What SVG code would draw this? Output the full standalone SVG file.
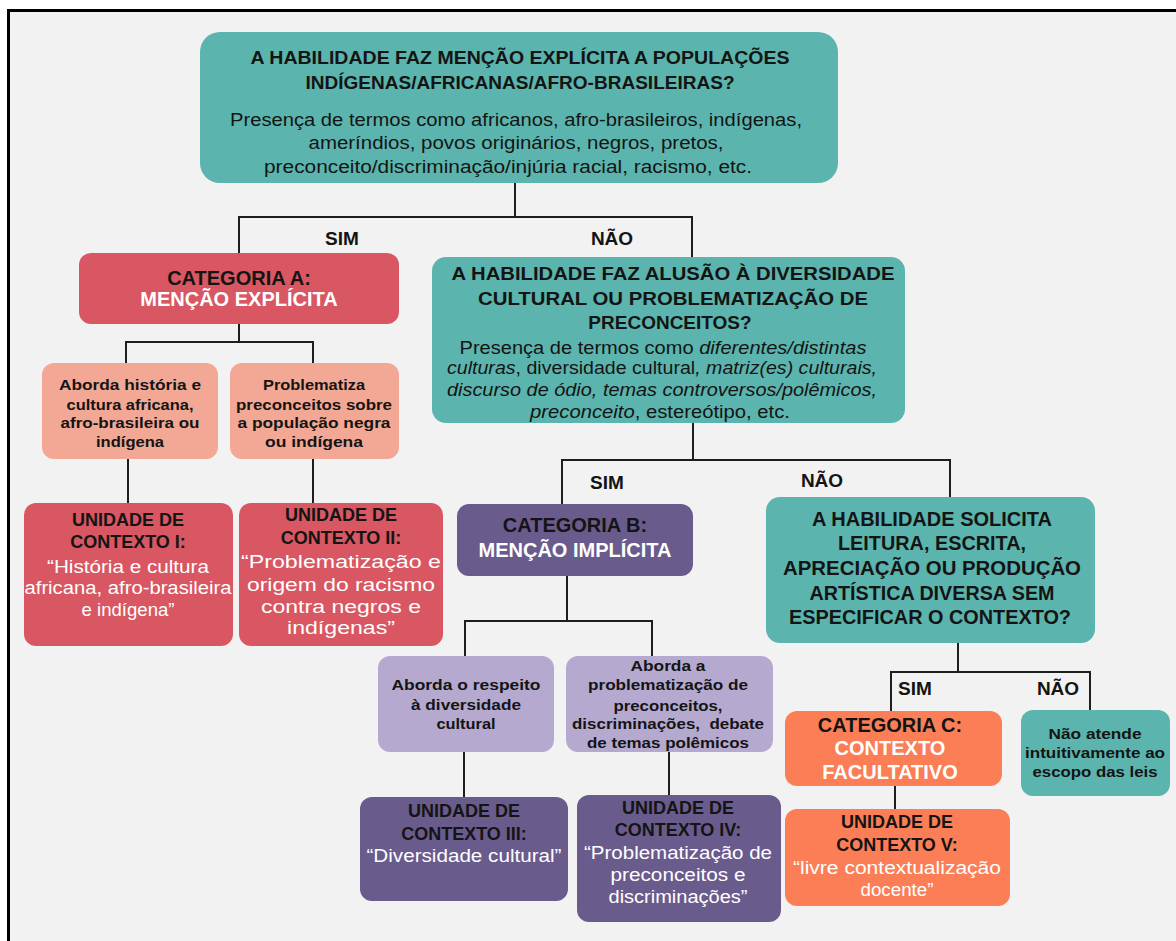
<svg xmlns="http://www.w3.org/2000/svg" width="1176" height="941" viewBox="0 0 1176 941">
<style>
.teal{fill:#5bb4ad}
.red{fill:#d85762}
.salmon{fill:#f3a895}
.dpur{fill:#6a5b8d}
.lpur{fill:#b5a9d0}
.orange{fill:#fb7e56}
text{font-family:"Liberation Sans",Arial,sans-serif;text-anchor:middle;fill:#141414}
.h{font-weight:bold;font-size:19px}
.h20{font-weight:bold;font-size:20px}
.hs{font-weight:bold;font-size:15.5px}
.hu{font-weight:bold;font-size:18px}
.r{font-size:17.5px}
.w{fill:#ffffff}
.i{font-style:italic}
.lbl{font-weight:bold;font-size:19px}
#connectors path{fill:none;stroke:#1e1e1e;stroke-width:2}
</style>
<rect x="0" y="0" width="1176" height="941" fill="#ffffff"/>
<rect x="8.5" y="10.5" width="1180" height="940" fill="#f2f2f2" stroke="#000000" stroke-width="3"/>

<g id="connectors">
<path d="M515 183 V217"/>
<path d="M239 253 V217 H692 V257"/>
<path d="M239 324 V342"/>
<path d="M126 363 V342 H313 V363"/>
<path d="M128 459 V503"/>
<path d="M313 459 V503"/>
<path d="M693 423 V460"/>
<path d="M562 504 V460 H950 V497"/>
<path d="M567 576 V621"/>
<path d="M465 656 V621 H652 V656"/>
<path d="M464 752 V797"/>
<path d="M669 752 V795"/>
<path d="M958 643 V672"/>
<path d="M891 711 V672 H1090 V710"/>
<path d="M895 786 V809"/>
</g>

<g id="labels">
<text class="lbl" x="342" y="245">SIM</text>
<text class="lbl" x="612" y="245">NÃO</text>
<text class="lbl" x="607" y="489">SIM</text>
<text class="lbl" x="822" y="487">NÃO</text>
<text class="lbl" x="915" y="695">SIM</text>
<text class="lbl" x="1058" y="695">NÃO</text>
</g>

<g id="q1">
<rect class="teal" x="200" y="32" width="638" height="151" rx="20"/>
<text class="h" x="520" y="64" textLength="539" lengthAdjust="spacingAndGlyphs">A HABILIDADE FAZ MENÇÃO EXPLÍCITA A POPULAÇÕES</text>
<text class="h" x="520" y="89" textLength="429" lengthAdjust="spacingAndGlyphs">INDÍGENAS/AFRICANAS/AFRO-BRASILEIRAS?</text>
<text class="r" x="516" y="126" textLength="572" lengthAdjust="spacingAndGlyphs">Presença de termos como africanos, afro-brasileiros, indígenas,</text>
<text class="r" x="516" y="149" textLength="415" lengthAdjust="spacingAndGlyphs">ameríndios, povos originários, negros, pretos,</text>
<text class="r" x="508" y="173" textLength="488" lengthAdjust="spacingAndGlyphs">preconceito/discriminação/injúria racial, racismo, etc.</text>
</g>

<g id="catA">
<rect class="red" x="79" y="253" width="320" height="71" rx="12"/>
<text class="h20" x="239" y="285">CATEGORIA A:</text>
<text class="h20 w" x="239" y="306">MENÇÃO EXPLÍCITA</text>
</g>

<g id="a1">
<rect class="salmon" x="42" y="363" width="176" height="96" rx="12"/>
<text class="hs" x="130" y="390" textLength="142" lengthAdjust="spacingAndGlyphs">Aborda história e</text>
<text class="hs" x="130" y="410" textLength="127" lengthAdjust="spacingAndGlyphs">cultura africana,</text>
<text class="hs" x="130" y="428" textLength="139" lengthAdjust="spacingAndGlyphs">afro-brasileira ou</text>
<text class="hs" x="130" y="447" textLength="68" lengthAdjust="spacingAndGlyphs">indígena</text>
</g>

<g id="a2">
<rect class="salmon" x="230" y="363" width="169" height="96" rx="12"/>
<text class="hs" x="314" y="390" textLength="102" lengthAdjust="spacingAndGlyphs">Problematiza</text>
<text class="hs" x="314" y="410" textLength="156" lengthAdjust="spacingAndGlyphs">preconceitos sobre</text>
<text class="hs" x="314" y="428" textLength="153" lengthAdjust="spacingAndGlyphs">a população negra</text>
<text class="hs" x="314" y="447" textLength="98" lengthAdjust="spacingAndGlyphs">ou indígena</text>
</g>

<g id="u1">
<rect class="red" x="24" y="503" width="209" height="143" rx="12"/>
<text class="hu" x="128" y="526">UNIDADE DE</text>
<text class="hu" x="128" y="548">CONTEXTO I:</text>
<text class="r w" x="128" y="573" textLength="162" lengthAdjust="spacingAndGlyphs">“História e cultura</text>
<text class="r w" x="128" y="594" textLength="207" lengthAdjust="spacingAndGlyphs">africana, afro-brasileira</text>
<text class="r w" x="128" y="616" textLength="93" lengthAdjust="spacingAndGlyphs">e indígena”</text>
</g>

<g id="u2">
<rect class="red" x="239" y="503" width="204" height="143" rx="12"/>
<text class="hu" x="341" y="521">UNIDADE DE</text>
<text class="hu" x="341" y="544">CONTEXTO II:</text>
<text class="r w" x="341" y="568" textLength="200" lengthAdjust="spacingAndGlyphs">“Problematização e</text>
<text class="r w" x="341" y="591" textLength="188" lengthAdjust="spacingAndGlyphs">origem do racismo</text>
<text class="r w" x="341" y="613" textLength="160" lengthAdjust="spacingAndGlyphs">contra negros e</text>
<text class="r w" x="341" y="634" textLength="108" lengthAdjust="spacingAndGlyphs">indígenas”</text>
</g>

<g id="q2">
<rect class="teal" x="432" y="257" width="473" height="166" rx="14"/>
<text class="h" x="673" y="280" textLength="443" lengthAdjust="spacingAndGlyphs">A HABILIDADE FAZ ALUSÃO À DIVERSIDADE</text>
<text class="h" x="673" y="305" textLength="390" lengthAdjust="spacingAndGlyphs">CULTURAL OU PROBLEMATIZAÇÃO DE</text>
<text class="h" x="670" y="329">PRECONCEITOS?</text>
<text class="r" x="663" y="354" textLength="407" lengthAdjust="spacingAndGlyphs">Presença de termos como <tspan class="i">diferentes/distintas</tspan></text>
<text class="r" x="662" y="374" textLength="430" lengthAdjust="spacingAndGlyphs"><tspan class="i">culturas</tspan>, diversidade cultural<tspan class="i">, matriz(es) culturais,</tspan></text>
<text class="r i" x="662" y="396" textLength="430" lengthAdjust="spacingAndGlyphs">discurso de ódio, temas controversos/polêmicos,</text>
<text class="r" x="660" y="418" textLength="260" lengthAdjust="spacingAndGlyphs"><tspan class="i">preconceito</tspan>, estereótipo, etc.</text>
</g>

<g id="catB">
<rect class="dpur" x="457" y="504" width="236" height="72" rx="12"/>
<text class="h20" x="575" y="532">CATEGORIA B:</text>
<text class="h20 w" x="575" y="557">MENÇÃO IMPLÍCITA</text>
</g>

<g id="b1">
<rect class="lpur" x="378" y="656" width="176" height="96" rx="12"/>
<text class="hs" x="466" y="690" textLength="149" lengthAdjust="spacingAndGlyphs">Aborda o respeito</text>
<text class="hs" x="466" y="710" textLength="110" lengthAdjust="spacingAndGlyphs">à diversidade</text>
<text class="hs" x="466" y="729" textLength="59" lengthAdjust="spacingAndGlyphs">cultural</text>
</g>

<g id="b2">
<rect class="lpur" x="566" y="656" width="207" height="96" rx="12"/>
<text class="hs" x="668" y="671" textLength="75" lengthAdjust="spacingAndGlyphs">Aborda a</text>
<text class="hs" x="668" y="690" textLength="160" lengthAdjust="spacingAndGlyphs">problematização de</text>
<text class="hs" x="668" y="711" textLength="109" lengthAdjust="spacingAndGlyphs">preconceitos,</text>
<text class="hs" x="668" y="729" textLength="192" lengthAdjust="spacingAndGlyphs" xml:space="preserve">discriminações,  debate</text>
<text class="hs" x="668" y="748" textLength="162" lengthAdjust="spacingAndGlyphs">de temas polêmicos</text>
</g>

<g id="u3">
<rect class="dpur" x="360" y="797" width="208" height="104" rx="12"/>
<text class="hu" x="464" y="817">UNIDADE DE</text>
<text class="hu" x="464" y="840">CONTEXTO III:</text>
<text class="r w" x="464" y="862" textLength="195" lengthAdjust="spacingAndGlyphs">“Diversidade cultural”</text>
</g>

<g id="u4">
<rect class="dpur" x="577" y="795" width="204" height="127" rx="12"/>
<text class="hu" x="678" y="814">UNIDADE DE</text>
<text class="hu" x="678" y="836">CONTEXTO IV:</text>
<text class="r w" x="678" y="859" textLength="188" lengthAdjust="spacingAndGlyphs">“Problematização de</text>
<text class="r w" x="678" y="881" textLength="135" lengthAdjust="spacingAndGlyphs">preconceitos e</text>
<text class="r w" x="678" y="903" textLength="139" lengthAdjust="spacingAndGlyphs">discriminações”</text>
</g>

<g id="q3">
<rect class="teal" x="766" y="497" width="329" height="146" rx="14"/>
<text class="h20" x="932" y="526" textLength="240" lengthAdjust="spacingAndGlyphs">A HABILIDADE SOLICITA</text>
<text class="h20" x="932" y="550" textLength="188" lengthAdjust="spacingAndGlyphs">LEITURA, ESCRITA,</text>
<text class="h20" x="932" y="575" textLength="298" lengthAdjust="spacingAndGlyphs">APRECIAÇÃO OU PRODUÇÃO</text>
<text class="h20" x="932" y="600" textLength="245" lengthAdjust="spacingAndGlyphs">ARTÍSTICA DIVERSA SEM</text>
<text class="h20" x="930" y="624" textLength="282" lengthAdjust="spacingAndGlyphs">ESPECIFICAR O CONTEXTO?</text>
</g>

<g id="catC">
<rect class="orange" x="785" y="711" width="217" height="75" rx="12"/>
<text class="h20" x="890" y="732">CATEGORIA C:</text>
<text class="h20 w" x="890" y="755">CONTEXTO</text>
<text class="h20 w" x="890" y="779">FACULTATIVO</text>
</g>

<g id="u5">
<rect class="orange" x="785" y="809" width="225" height="97" rx="12"/>
<text class="hu" x="897" y="828">UNIDADE DE</text>
<text class="hu" x="897" y="851">CONTEXTO V:</text>
<text class="r w" x="897" y="874" textLength="208" lengthAdjust="spacingAndGlyphs">“livre contextualização</text>
<text class="r w" x="897" y="896" textLength="73" lengthAdjust="spacingAndGlyphs">docente”</text>
</g>

<g id="nao">
<rect class="teal" x="1021" y="710" width="149" height="86" rx="12"/>
<text class="hs" x="1095" y="739" textLength="93" lengthAdjust="spacingAndGlyphs">Não atende</text>
<text class="hs" x="1095" y="758" textLength="140" lengthAdjust="spacingAndGlyphs">intuitivamente ao</text>
<text class="hs" x="1095" y="777" textLength="125" lengthAdjust="spacingAndGlyphs">escopo das leis</text>
</g>
</svg>
